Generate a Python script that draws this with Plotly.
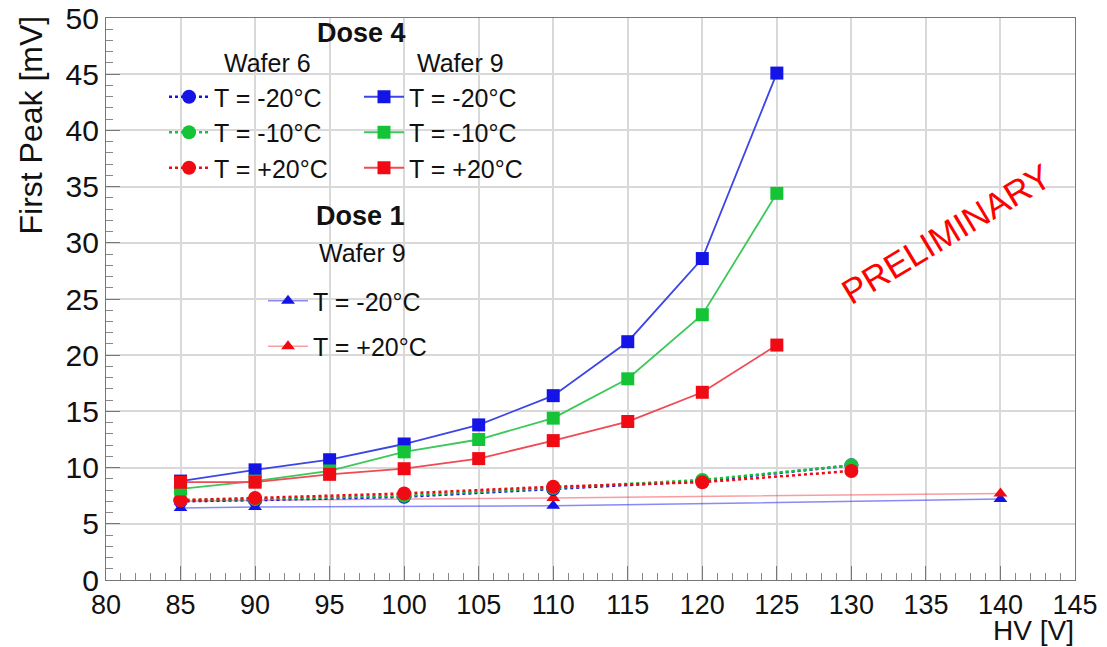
import plotly.graph_objects as go

# HV scan points
hv_w9_d4 = [85, 90, 95, 100, 105, 110, 115, 120, 125]
hv_w6_d4 = [85, 90, 100, 110, 120, 130]
hv_w9_d1 = [85, 90, 110, 140]

# Dose 4, Wafer 9 (squares)
w9_d4_m20 = [8.8, 9.8, 10.7, 12.1, 13.8, 16.4, 21.2, 28.6, 45.1]
w9_d4_m10 = [8.1, 8.8, 9.7, 11.4, 12.5, 14.4, 17.9, 23.6, 34.4]
w9_d4_p20 = [8.7, 8.7, 9.4, 9.9, 10.8, 12.4, 14.1, 16.7, 20.9]

# Dose 4, Wafer 6 (circles)
w6_d4_m20 = [7.0, 7.1, 7.4, 8.1, 8.8, 10.2]
w6_d4_m10 = [7.1, 7.2, 7.5, 8.2, 8.9, 10.2]
w6_d4_p20 = [7.1, 7.3, 7.7, 8.3, 8.7, 9.7]

# Dose 1, Wafer 9 (triangles)
w9_d1_m20 = [6.4, 6.5, 6.6, 7.2]
w9_d1_p20 = [7.0, 7.1, 7.3, 7.7]

x_ticks = list(range(80, 150, 5))
y_ticks = list(range(0, 55, 5))

BLUE = "#1414e6"
GREEN = "#14c436"
RED = "#f00a14"
FONT = "Liberation Sans, Arial, sans-serif"

fig = go.Figure()


def add(x, y, name, color, symbol, size, dash, width, legend, group, line_color=None):
    fig.add_trace(go.Scatter(
        x=x, y=y, name=name, mode="lines+markers",
        line=dict(color=line_color or color, width=width, dash=dash),
        marker=dict(color=color, symbol=symbol, size=size),
        legend=legend, legendgroup=group,
    ))


# Dose 1 triangles drawn underneath
add(hv_w9_d1, w9_d1_m20, "T = -20°C", BLUE, "triangle-up", 12, "solid", 1.5,
    "legend3", "d1a", "rgba(40,40,240,0.55)")
add(hv_w9_d1, w9_d1_p20, "T = +20°C", RED, "triangle-up", 12, "solid", 1.5,
    "legend3", "d1b", "rgba(240,40,50,0.45)")

# Wafer 6 circles
add(hv_w6_d4, w6_d4_m20, "T = -20°C", BLUE, "circle", 14, "dot", 2.5, "legend", "w6a")
add(hv_w6_d4, w6_d4_m10, "T = -10°C", GREEN, "circle", 14, "dot", 2.5, "legend", "w6b")
add(hv_w6_d4, w6_d4_p20, "T = +20°C", RED, "circle", 14, "dot", 2.5, "legend", "w6c")

# Wafer 9 squares
add(hv_w9_d4, w9_d4_m20, "T = -20°C", BLUE, "square", 13, "solid", 1.8, "legend2", "w9a",
    "#3c46e6")
add(hv_w9_d4, w9_d4_m10, "T = -10°C", GREEN, "square", 13, "solid", 1.8, "legend2", "w9b",
    "#3cc85a")
add(hv_w9_d4, w9_d4_p20, "T = +20°C", RED, "square", 13, "solid", 1.8, "legend2", "w9c",
    "#f04a55")

W, H = 1107, 647
L, R, T, B = 106, 32, 18, 67
pw, ph = W - L - R, H - T - B


def px(xp):
    return (xp - L) / pw


def py(yp):
    return (H - B - yp) / ph


legend_common = dict(
    bgcolor="rgba(0,0,0,0)", font=dict(family=FONT, size=25, color="#111"),
    traceorder="grouped", xanchor="left", yanchor="top", itemwidth=40,
)
fig.update_layout(
    legend=dict(x=px(164), y=py(74), tracegroupgap=0, **legend_common),
    legend2=dict(x=px(359), y=py(74), tracegroupgap=0, **legend_common),
    legend3=dict(x=px(263), y=py(278), tracegroupgap=10, **legend_common),
)

axis_common = dict(
    showline=True, mirror=True, linecolor="#777", linewidth=1.2,
    ticks="inside", ticklen=14, tickcolor="#777", tickwidth=1,
    showgrid=True, gridcolor="#d9d9d9", gridwidth=1.5, zeroline=False,
    automargin=False,
    minor=dict(dtick=1, ticks="inside", ticklen=7, tickcolor="#888", showgrid=False),
)
fig.update_xaxes(range=[80, 145], tickvals=x_ticks, ticktext=[str(v) for v in x_ticks],
                 tickfont=dict(family=FONT, size=27, color="#111"), **axis_common)
fig.update_yaxes(range=[0, 50], tickvals=y_ticks, ticktext=[str(v) for v in y_ticks],
                 tickfont=dict(family=FONT, size=30, color="#111"), **axis_common)

annotations = [
    dict(text="<b>Dose 4</b>", x=px(361), y=py(33), size=27),
    dict(text="Wafer 6", x=px(267), y=py(63), size=25),
    dict(text="Wafer 9", x=px(460), y=py(63), size=25),
    dict(text="<b>Dose 1</b>", x=px(360), y=py(216), size=27),
    dict(text="Wafer 9", x=px(362), y=py(253), size=25),
]
for a in annotations:
    fig.add_annotation(text=a["text"], x=a["x"], y=a["y"], xref="paper", yref="paper",
                       xanchor="center", yanchor="middle", showarrow=False,
                       font=dict(family=FONT, size=a["size"], color="#111"))

fig.add_annotation(text="First Peak [mV]", x=px(30), y=py(14), xref="paper", yref="paper",
                   textangle=-90, xanchor="center", yanchor="top", showarrow=False,
                   font=dict(family=FONT, size=32, color="#111"))
fig.add_annotation(text="HV [V]", x=1.0, y=py(647), xref="paper", yref="paper",
                   xanchor="right", yanchor="bottom", showarrow=False, borderpad=0,
                   font=dict(family=FONT, size=28, color="#111"))
fig.add_annotation(text="PRELIMINARY", x=136.4, y=30.8, textangle=-31, showarrow=False,
                   xanchor="center", yanchor="middle",
                   font=dict(family="Liberation Sans Narrow, Arial Narrow, " + FONT,
                             size=35, color="#ff0000"))

fig.update_layout(
    width=W, height=H, margin=dict(l=L, r=R, t=T, b=B, autoexpand=False),
    paper_bgcolor="white", plot_bgcolor="white",
    font=dict(family=FONT),
)

fig.write_html("out.html")
